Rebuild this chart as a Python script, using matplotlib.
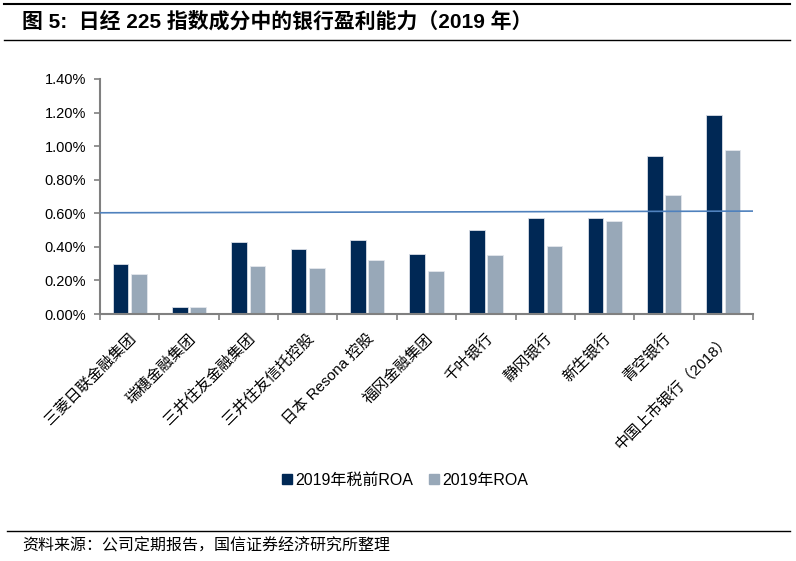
import matplotlib
matplotlib.use("Agg")
import matplotlib.pyplot as plt
import numpy as np
from matplotlib.lines import Line2D

plt.rcParams['font.family'] = ['Liberation Sans', 'Noto Sans CJK SC', 'DejaVu Sans']

categories = ["三菱日联金融集团", "瑞穗金融集团", "三井住友金融集团", "三井住友信托控股",
              "日本 Resona 控股", "福冈金融集团", "千叶银行", "静冈银行", "新生银行",
              "青空银行", "中国上市银行（2018）"]
roa_pretax = [0.295, 0.041, 0.431, 0.385, 0.441, 0.358, 0.498, 0.571, 0.571, 0.943, 1.184]
roa = [0.237, 0.041, 0.285, 0.273, 0.320, 0.255, 0.350, 0.405, 0.553, 0.710, 0.980]
ref_line = [0.603, 0.613]
yticks = [0.0, 0.2, 0.4, 0.6, 0.8, 1.0, 1.2, 1.4]
series_names = ["2019年税前ROA", "2019年ROA"]

dark = "#002855"
light = "#98A8B8"
linec = "#4F81BD"
gray = "#808080"

fig = plt.figure(figsize=(7.96, 5.61), dpi=100)
ax = fig.add_axes([100/796, 1-314/561, 653/796, (314-79)/561])

n = len(categories)
x = np.arange(n)
w = 0.265
gap = 0.045
ax.bar(x - (w+gap)/2, roa_pretax, w, color=dark, edgecolor="#D9DEE6", linewidth=0.6, zorder=2)
ax.bar(x + (w+gap)/2, roa, w, color=light, edgecolor="#E3E7EC", linewidth=0.6, zorder=2)
ax.plot([-0.5, n-0.5], ref_line, color=linec, linewidth=1.2, zorder=3)

ax.set_xlim(-0.5, n-0.5)
ax.set_ylim(0, 1.4)
ax.set_yticks(yticks)
ax.set_yticklabels([f"{v:.2f}%" for v in yticks], fontsize=10.5, color="#000000")
ax.set_xticks(np.arange(-0.5, n, 1.0))
ax.set_xticklabels([])
ax.tick_params(axis='x', direction='out', length=4, width=1.2, color=gray)
ax.tick_params(axis='y', direction='out', length=4, width=1.2, color=gray, pad=6)
for s in ['top', 'right']:
    ax.spines[s].set_visible(False)
for s in ['left', 'bottom']:
    ax.spines[s].set_color(gray)
    ax.spines[s].set_linewidth(1.5)

for i, lab in enumerate(categories):
    ax.annotate(lab, xy=(i, 0), xycoords=('data', 'axes fraction'),
                xytext=(3, -16), textcoords='offset points',
                rotation=45, rotation_mode='anchor', ha='right', va='center',
                fontsize=11, family=['Liberation Sans', 'Noto Sans CJK SC'])

handles = [Line2D([0], [0], marker='s', color='none', markerfacecolor=dark, markeredgecolor=dark, markersize=7),
           Line2D([0], [0], marker='s', color='none', markerfacecolor=light, markeredgecolor=light, markersize=7)]
fig.legend(handles, series_names, loc='center', bbox_to_anchor=(405/796, 1-480/561), ncol=2,
           frameon=False, handlelength=0.6, handletextpad=0.2, columnspacing=1.0,
           prop={'family': ['Liberation Sans', 'Noto Sans CJK SC'], 'size': 11.5})

fig.add_artist(Line2D([4/796, 790/796], [1-4/561, 1-4/561], color='black', linewidth=1.5))
fig.add_artist(Line2D([4/796, 790/796], [1-40/561, 1-40/561], color='black', linewidth=1.0))
fig.add_artist(Line2D([7/796, 790/796], [1-531/561, 1-531/561], color='black', linewidth=1.0))

fig.text(22/796, 1-21/561, "图 5:  日经 225 指数成分中的银行盈利能力（2019 年）", fontsize=15, fontweight='bold',
         ha='left', va='center', family=['Liberation Sans', 'Noto Sans CJK SC'])
fig.text(22/796, 1-546/561, "资料来源：公司定期报告，国信证券经济研究所整理", fontsize=11.5,
         ha='left', va='center', family=['Noto Sans CJK SC'])

fig.savefig("out.png", dpi=100)
